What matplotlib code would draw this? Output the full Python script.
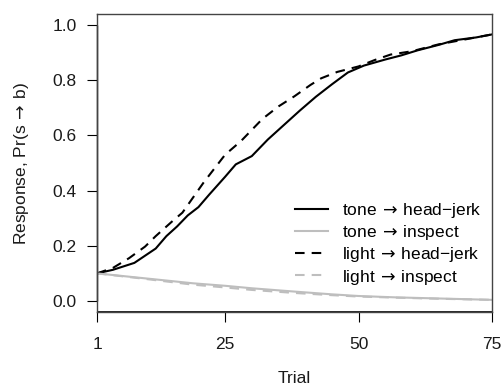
import matplotlib
matplotlib.use("Agg")
import matplotlib.pyplot as plt
from matplotlib.lines import Line2D

plt.rcParams['font.family'] = ['Liberation Sans', 'DejaVu Sans']
plt.rcParams['mathtext.fontset'] = 'dejavusans'

# Mean response probability per trial for each stimulus -> behaviour pair
trial_tone_jerk = [1, 4, 8, 12, 14, 16, 18, 20, 22, 25, 27, 30, 33, 35, 37, 39,
                   42, 45, 48, 51, 55, 58, 61, 65, 68, 72, 75]
tone_jerk = [0.100, 0.113, 0.138, 0.190, 0.235, 0.270, 0.310, 0.340, 0.385,
             0.450, 0.495, 0.525, 0.585, 0.620, 0.655, 0.690, 0.740, 0.785,
             0.828, 0.853, 0.875, 0.890, 0.908, 0.928, 0.945, 0.955, 0.966]

trial_light_jerk = [1, 4, 7, 10, 12, 15, 17, 19, 21, 23, 25, 28, 30, 32, 35, 38,
                    41, 43, 46, 50, 53, 56, 60, 65, 70, 75]
light_jerk = [0.100, 0.120, 0.155, 0.197, 0.235, 0.287, 0.320, 0.375, 0.430,
              0.480, 0.530, 0.580, 0.620, 0.660, 0.705, 0.742, 0.783, 0.807,
              0.830, 0.850, 0.873, 0.893, 0.905, 0.930, 0.948, 0.966]

trial_inspect = [1, 10, 19, 25, 30, 38, 45, 50, 57, 65, 75]
tone_inspect = [0.100, 0.082, 0.064, 0.055, 0.046, 0.034, 0.024, 0.018, 0.013,
                0.009, 0.004]
light_inspect = [0.100, 0.080, 0.059, 0.049, 0.040, 0.029, 0.021, 0.016, 0.012,
                 0.008, 0.004]

x_ticks = [1, 25, 50, 75]
y_ticks = [0.0, 0.2, 0.4, 0.6, 0.8, 1.0]
ARROW = "$\\,\\rightarrow\\,$"
labels = ["tone" + ARROW + "head\u2212jerk", "tone" + ARROW + "inspect",
          "light" + ARROW + "head\u2212jerk", "light" + ARROW + "inspect"]

GRAY = "#bebebe"
LW = 1.5
DASH = (4.6, 3.4)
FS = 12.5
TXT = "#1a1a1a"

fig = plt.figure(figsize=(5.03, 3.87), dpi=100)
ax = fig.add_axes([97 / 503, 75 / 387, 395 / 503, 298 / 387])

ax.plot(trial_tone_jerk, tone_jerk, color="black", lw=LW)
ax.plot(trial_inspect, tone_inspect, color=GRAY, lw=LW)
ax.plot(trial_light_jerk, light_jerk, color="black", lw=LW, dashes=DASH)
ax.plot(trial_inspect, light_inspect, color=GRAY, lw=LW, dashes=DASH)

ax.set_xlim(1, 75)
ax.set_ylim(-0.04, 1.04)

for s in ax.spines.values():
    s.set_color("#444444")
    s.set_linewidth(1.0)

# axis lines drawn over the frame, as R's axis() does
ax.plot([0, 0], [0, 1], color="black", lw=1.0, transform=ax.get_yaxis_transform(),
        clip_on=False, solid_capstyle="butt")
ax.plot([0, 1], [0, 0], color="black", lw=1.2, transform=ax.transAxes,
        clip_on=False, solid_capstyle="butt")

ax.set_xticks(x_ticks)
ax.set_xticklabels([str(v) for v in x_ticks])
ax.set_yticks(y_ticks)
ax.set_yticklabels([f"{v:.1f}" for v in y_ticks])
ax.tick_params(axis="both", direction="out", length=7.2, width=0.8,
               color="black", labelsize=FS, labelcolor=TXT)
ax.tick_params(axis="x", pad=10.5)
ax.tick_params(axis="y", pad=7.5)

ax.set_xlabel("Trial", fontsize=FS, color=TXT, labelpad=14)
ax.set_ylabel("Response, Pr(s" + ARROW + "b)", fontsize=FS, color=TXT,
              labelpad=15)

handles = [
    Line2D([], [], color="black", lw=LW),
    Line2D([], [], color=GRAY, lw=LW),
    Line2D([], [], color="black", lw=LW, dashes=DASH),
    Line2D([], [], color=GRAY, lw=LW, dashes=DASH),
]
ax.legend(handles, labels, loc="upper left", bbox_to_anchor=(0.501, 0.372),
          frameon=False, fontsize=FS, handlelength=1.9, handletextpad=0.8,
          labelspacing=0.18, borderpad=0, borderaxespad=0)

fig.savefig("out.png", dpi=100)
